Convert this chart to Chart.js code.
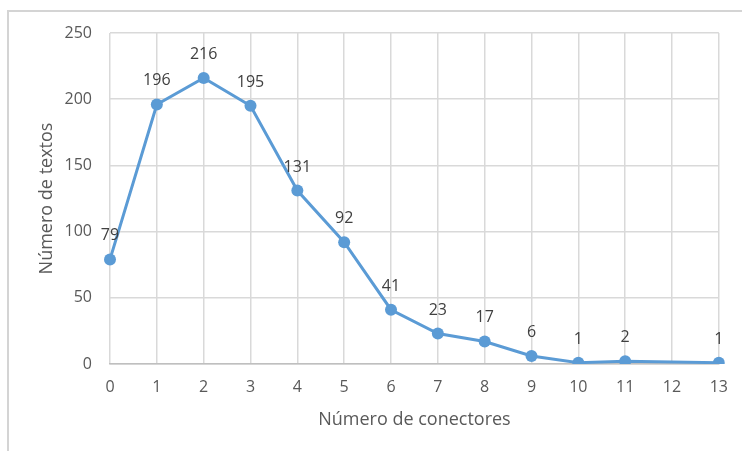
<!DOCTYPE html>
<html>
<head>
<meta charset="utf-8">
<script src="https://cdn.jsdelivr.net/npm/chart.js@4/dist/chart.umd.min.js"></script>
<style>
  html, body { margin: 0; padding: 0; background: #ffffff; }
  #wrap { width: 742px; height: 451px; position: relative; }
</style>
</head>
<body>
<div id="wrap"><canvas id="c" width="742" height="451"></canvas></div>
<script>
// Number of connectors per text (x) and number of texts (y); 12 has no value.
const categories = ['0', '1', '2', '3', '4', '5', '6', '7', '8', '9', '10', '11', '12', '13'];
const textCounts = [79, 196, 216, 195, 131, 92, 41, 23, 17, 6, 1, 2, null, 1];
const yTicks = [0, 50, 100, 150, 200, 250];

const FONT = '"Open Sans", "Noto Sans", sans-serif';
const TEXT = '#595959';
const GRID = '#d9d9d9';
const BLUE = '#5b9bd5';

// Light frame around the chart
const framePlugin = {
  id: 'frame',
  beforeDraw(chart) {
    const ctx = chart.ctx;
    ctx.save();
    ctx.strokeStyle = '#d4d4d4';
    ctx.lineWidth = 2;
    ctx.strokeRect(8, 11, chart.width + 10, chart.height + 10);
    ctx.restore();
  }
};

// Value labels above each point
const valueLabels = {
  id: 'valueLabels',
  afterDatasetsDraw(chart) {
    const ctx = chart.ctx;
    const meta = chart.getDatasetMeta(0);
    const data = chart.data.datasets[0].data;
    ctx.save();
    ctx.font = '16px ' + FONT;
    ctx.fillStyle = '#404040';
    ctx.textAlign = 'center';
    ctx.textBaseline = 'alphabetic';
    meta.data.forEach((pt, i) => {
      const v = data[i];
      if (v === null || v === undefined) return;
      ctx.fillText(String(v), pt.x, pt.y - 19);
    });
    ctx.restore();
  }
};

new Chart(document.getElementById('c'), {
  type: 'line',
  data: {
    labels: categories,
    datasets: [{
      data: textCounts,
      borderColor: BLUE,
      backgroundColor: BLUE,
      borderWidth: 3,
      pointRadius: 6,
      pointHoverRadius: 6,
      pointBackgroundColor: BLUE,
      pointBorderColor: BLUE,
      pointBorderWidth: 0,
      tension: 0,
      spanGaps: true
    }]
  },
  options: {
    responsive: false,
    animation: false,
    events: [],
    layout: { padding: { top: 33, right: 23, left: 0, bottom: 0 } },
    plugins: {
      legend: { display: false },
      tooltip: { enabled: false }
    },
    scales: {
      x: {
        type: 'category',
        offset: false,
        grid: { color: GRID, lineWidth: 1.5, drawTicks: false },
        border: { display: true, color: '#bfbfbf', width: 1.5 },
        ticks: {
          color: TEXT,
          font: { family: FONT, size: 16 },
          padding: 14,
          maxRotation: 0,
          autoSkip: false
        },
        title: {
          display: true,
          text: 'Número de conectores',
          color: TEXT,
          font: { family: FONT, size: 18 },
          padding: { top: 0, bottom: 20 }
        },
        afterFit(scale) { scale.height = 87; }
      },
      y: {
        min: 0,
        max: 250,
        afterBuildTicks(scale) { scale.ticks = yTicks.map(v => ({ value: v })); },
        grid: { color: GRID, lineWidth: 1.5, drawTicks: false },
        border: { display: false },
        ticks: {
          color: TEXT,
          font: { family: FONT, size: 16 },
          padding: 18
        },
        title: {
          display: true,
          text: 'Número de textos',
          color: TEXT,
          font: { family: FONT, size: 18 },
          padding: { top: 36, bottom: 0 }
        },
        afterFit(scale) { scale.width = 110; }
      }
    }
  },
  plugins: [framePlugin, valueLabels]
});
</script>
</body>
</html>
